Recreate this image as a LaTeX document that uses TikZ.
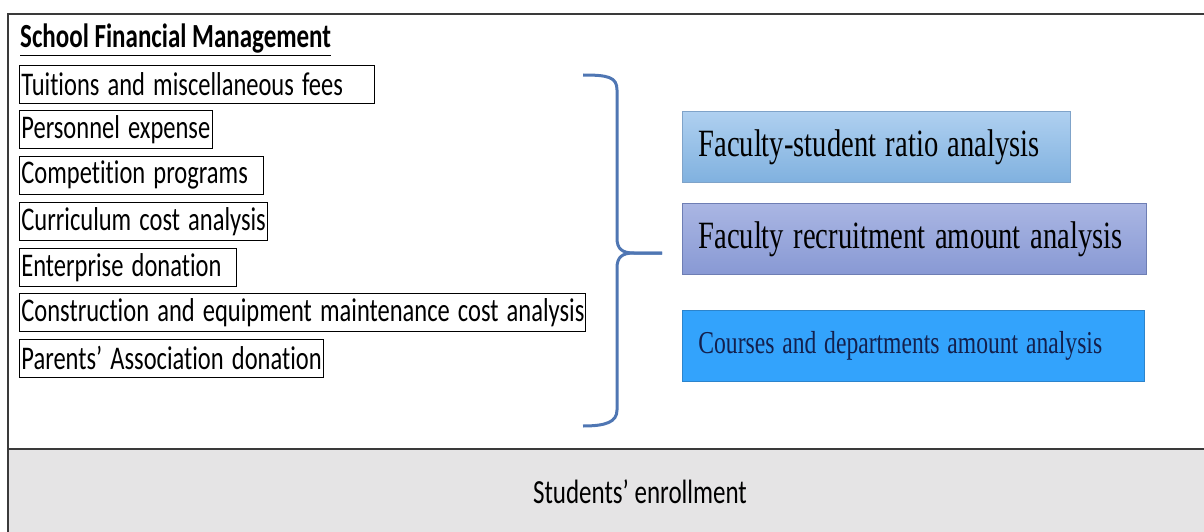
\documentclass[tikz,border=0pt]{standalone}
\usepackage{fontspec}
\usepackage{graphicx}
\setmainfont{Carlito}[Ligatures=NoCommon]
\newfontfamily\tnr{Liberation Serif}
\usetikzlibrary{positioning}
\definecolor{bracecol}{HTML}{4F76B3}
\definecolor{bandgray}{HTML}{E5E4E5}
\definecolor{frame}{HTML}{3A3A3A}
\definecolor{aTop}{HTML}{AFD0F0}
\definecolor{aBot}{HTML}{80B1DF}
\definecolor{aEdge}{HTML}{7FA3C9}
\definecolor{bTop}{HTML}{AAB6E3}
\definecolor{bBot}{HTML}{8899D4}
\definecolor{bEdge}{HTML}{6E7EB4}
\definecolor{cFill}{HTML}{33A3FC}
\definecolor{cEdge}{HTML}{2C84CC}
\definecolor{cText}{HTML}{13204D}
\newcommand{\vs}[1]{\scalebox{1}[1.35]{#1}}
\newcommand{\vt}[1]{\scalebox{1}[1.35]{#1}}
\tikzset{
  lbox/.style={draw=black, line width=0.8pt, anchor=north west, inner xsep=2pt, inner ysep=0pt,
    minimum height=38pt, align=left, font=\fontsize{24.5}{28}\selectfont},
  rbox/.style={anchor=north west, inner xsep=16pt, inner ysep=0pt, minimum height=71pt, align=left},
}
\begin{document}
\begin{tikzpicture}[x=1pt,y=-1pt]
\useasboundingbox (0,0) rectangle (1204,532);
% gray band
\fill[bandgray] (8,449) rectangle (1204,532);
\node[inner sep=0pt, font=\fontsize{25}{28}\selectfont] (enr) at (640,492) {\vs{Students’ enrollment}};
% frame lines
\draw[frame, line width=1.3pt] (1204,14) -- (8,14) -- (8,532);
\draw[frame, line width=1.3pt] (8,449) -- (1204,449);
% title
\node[anchor=base west, inner sep=0pt, font=\fontsize{25}{28}\selectfont\bfseries] (title) at (20,48) {\vs{\underline{School Financial Management}}};
% left boxes
\node[lbox, text width=351pt] (b1) at (19,65) {\vs{Tuitions and miscellaneous fees}};
\node[lbox, text width=189pt] (b2) at (19,110) {\vs{Personnel expense}};
\node[lbox, text width=240pt] (b3) at (19,156) {\vs{Competition programs}};
\node[lbox, text width=244pt] (b4) at (19,202) {\vs{Curriculum cost analysis}};
\node[lbox, text width=213pt] (b5) at (19,248) {\vs{Enterprise donation}};
\node[lbox, text width=562pt] (b6) at (19,293) {\vs{Construction and equipment maintenance cost analysis}};
\node[lbox, text width=300pt] (b7) at (19,339) {\vs{Parents’ Association donation}};
% brace
\coordinate (btop) at (583,75);
\coordinate (bbot) at (583,426);
\coordinate (btip) at (662,253);
\draw[bracecol, line width=3pt, line join=round]
  (btop) .. controls (608,75) and (617,77) .. (617,90) -- (617,238)
  .. controls (617,249) and (622,253) .. (634,253) -- (btip);
\draw[bracecol, line width=3pt, line join=round]
  (btip) -- (634,253) .. controls (622,253) and (617,257) .. (617,268) -- (617,410)
  .. controls (617,422) and (606,426) .. (bbot);
% right boxes
\node[rbox, draw=aEdge, line width=0.8pt, top color=aTop, bottom color=aBot, text width=356pt,
  font=\tnr\fontsize{28.6}{32}\selectfont] (fa) at (682,111) {\vt{Faculty-student ratio analysis}};
\node[rbox, draw=bEdge, line width=0.8pt, top color=bTop, bottom color=bBot, text width=432pt,
  font=\tnr\fontsize{28.6}{32}\selectfont] (fb) at (682,203) {\vt{Faculty recruitment amount analysis}};
\node[rbox, draw=cEdge, line width=0.8pt, fill=cFill, text=cText, text width=430pt,
  font=\tnr\fontsize{23.6}{27}\selectfont] (fc) at (682,310) {\vt{Courses and departments amount analysis}};
\end{tikzpicture}
\end{document}
